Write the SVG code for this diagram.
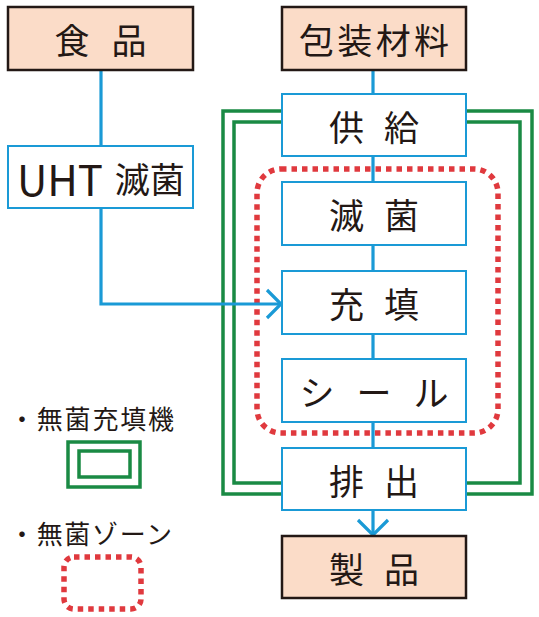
<svg xmlns="http://www.w3.org/2000/svg" width="539" height="617" viewBox="0 0 539 617">
<defs>
<style>
.src{fill:#fbdcc8;stroke:#231815;stroke-width:2.5}
.box{fill:#ffffff;stroke:#1a9ad6;stroke-width:2}
.lbl{font-family:"Noto Sans CJK JP","Noto Sans",sans-serif;font-size:35px;fill:#231815;text-anchor:middle;dominant-baseline:central}
.leg{font-family:"Noto Sans CJK JP","Noto Sans",sans-serif;font-size:26px;fill:#231815;dominant-baseline:central}
.conn{fill:none;stroke:#1a9ad6;stroke-width:3.2}
.grn{fill:none;stroke:#1a8a44;stroke-width:3.5}
.zone{fill:none;stroke:#e0393e;stroke-width:5.5;stroke-dasharray:5.5 5}
</style>
</defs>
<rect width="539" height="617" fill="#ffffff"/>
<g id="machine">
<rect class="grn" x="223" y="111" width="309" height="383"/>
<rect class="grn" x="234" y="122" width="286" height="361"/>
</g>
<g id="zone">
<rect class="zone" x="257" y="169" width="241" height="264" rx="24" ry="24"/>
</g>
<g id="connectors">
<line class="conn" x1="101" y1="70" x2="101" y2="146"/>
<polyline class="conn" points="101,208 101,304 281,304"/>
<polyline class="conn" points="267,290 281,304 267,318"/>
<line class="conn" x1="373" y1="70" x2="373" y2="94"/>
<line class="conn" x1="373" y1="156" x2="373" y2="182"/>
<line class="conn" x1="373" y1="245" x2="373" y2="271"/>
<line class="conn" x1="373" y1="334" x2="373" y2="359"/>
<line class="conn" x1="373" y1="422" x2="373" y2="448"/>
<line class="conn" x1="373" y1="510" x2="373" y2="534"/>
<polyline class="conn" points="358,520 373,535 388,520"/>
</g>
<g id="food">
<rect class="src" x="8" y="7" width="185" height="63"/>
<text class="lbl" x="100.5" y="38.5" textLength="92" lengthAdjust="spacing">食 品</text>
</g>
<g id="packaging">
<rect class="src" x="282" y="7" width="184" height="63"/>
<text class="lbl" x="374" y="38.5" textLength="150" lengthAdjust="spacing">包装材料</text>
</g>
<g id="uht">
<rect class="box" x="8" y="146" width="185" height="62"/>
<text class="lbl" x="17" y="177" style="text-anchor:start"><tspan font-size="42">UHT</tspan><tspan dx="4"> 滅菌</tspan></text>
</g>
<g id="supply">
<rect class="box" x="282" y="94" width="184" height="62"/>
<text class="lbl" x="374" y="125" textLength="90" lengthAdjust="spacing">供 給</text>
</g>
<g id="sterilize">
<rect class="box" x="282" y="182" width="184" height="63"/>
<text class="lbl" x="374" y="213.5" textLength="90" lengthAdjust="spacing">滅 菌</text>
</g>
<g id="fill">
<rect class="box" x="282" y="271" width="184" height="63"/>
<text class="lbl" x="374" y="302.5" textLength="90" lengthAdjust="spacing">充 填</text>
</g>
<g id="seal">
<rect class="box" x="282" y="359" width="184" height="63"/>
<text class="lbl" x="374" y="390.5" textLength="149" lengthAdjust="spacing">シ ー ル</text>
</g>
<g id="discharge">
<rect class="box" x="282" y="448" width="184" height="62"/>
<text class="lbl" x="374" y="479" textLength="90" lengthAdjust="spacing">排 出</text>
</g>
<g id="product">
<rect class="src" x="282" y="536" width="184" height="62"/>
<text class="lbl" x="374" y="567" textLength="90" lengthAdjust="spacing">製 品</text>
</g>
<g id="legend-machine">
<text class="leg" x="9" y="417" textLength="165" lengthAdjust="spacing">・無菌充填機</text>
<rect class="grn" x="68" y="442" width="72" height="45"/>
<rect class="grn" x="79" y="451" width="51" height="26"/>
</g>
<g id="legend-zone">
<text class="leg" x="9" y="532" textLength="163" lengthAdjust="spacing">・無菌ゾーン</text>
<rect class="zone" x="64" y="557" width="77" height="52" rx="10" ry="10"/>
</g>
</svg>
